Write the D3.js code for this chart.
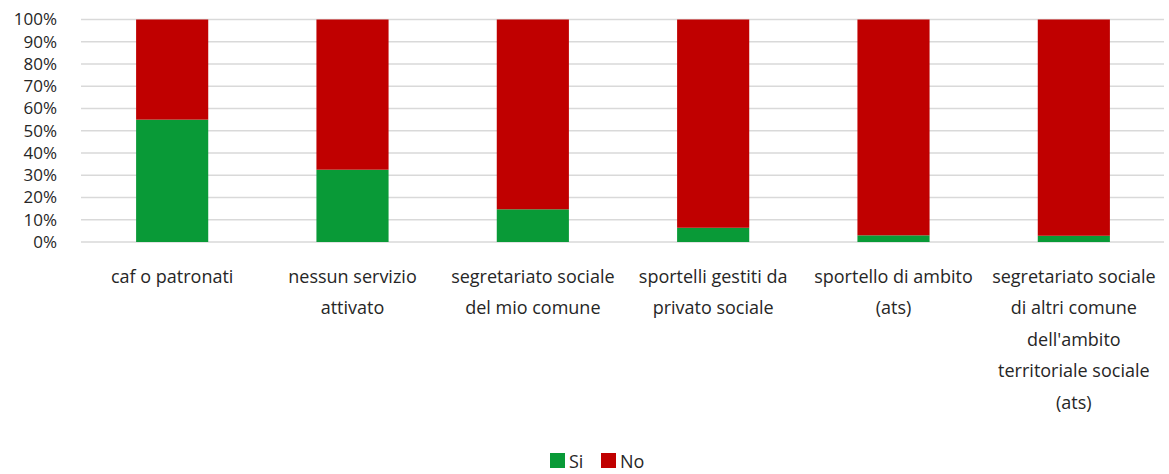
<!DOCTYPE html>
<html>
<head>
<meta charset="utf-8">
<script src="https://cdn.jsdelivr.net/npm/d3@7"></script>
<style>
    body { margin: 0; background: #fff; }
    text { font-family: 'Open Sans', sans-serif; fill: #262626; }
</style>
</head>
<body>
<div id="chart"></div>
<script>
var categories = [
    'caf o patronati',
    'nessun servizio\nattivato',
    'segretariato sociale\ndel mio comune',
    'sportelli gestiti da\nprivato sociale',
    'sportello di ambito\n(ats)',
    "segretariato sociale\ndi altri comune\ndell'ambito\nterritoriale sociale\n(ats)"
]
var seriesNames = ['Si', 'No']
var siValues = [55, 32.5, 14.7, 6.4, 3, 2.8]
var noValues = [45, 67.5, 85.3, 93.6, 97, 97.2]
var yTicks = [0, 10, 20, 30, 40, 50, 60, 70, 80, 90, 100]
var colors = ['#099A37', '#C00000']

var W = 1169
var H = 474
var margin = { top: 19.5, right: 5, bottom: 232, left: 82 }
var width = W - margin.left - margin.right
var height = H - margin.top - margin.bottom

var svg = d3.select('#chart').append('svg')
    .attr('width', W)
    .attr('height', H)

var g = svg.append('g')
    .attr('transform', 'translate(' + margin.left + ',' + margin.top + ')')

var x = d3.scaleBand()
    .domain(categories)
    .range([0, width])
    .paddingInner(0.6)
    .paddingOuter(0.3)

var y = d3.scaleLinear()
    .domain([0, 100])
    .range([height, 0])

// grid
g.selectAll('.grid')
    .data(yTicks)
    .enter().append('line')
    .attr('x1', -1)
    .attr('x2', width)
    .attr('y1', function (d) { return y(d) })
    .attr('y2', function (d) { return y(d) })
    .attr('stroke', '#d9d9d9')
    .attr('stroke-width', 1.3)

var yAxis = d3.axisLeft(y).tickValues(yTicks)
    .tickFormat(function (d) { return d + '%' })
    .tickSize(0).tickPadding(25)

g.append('g').call(yAxis)
    .call(function (a) { a.select('.domain').remove() })
    .selectAll('text')
    .style('font-size', '17px')
    .attr('fill', '#262626')

var rows = categories.map(function (c, i) {
    return { cat: c, Si: siValues[i], No: noValues[i] }
})
var stack = d3.stack().keys(seriesNames)(rows)

g.selectAll('.series')
    .data(stack)
    .enter().append('g')
    .attr('fill', function (d, i) { return colors[i] })
    .selectAll('rect')
    .data(function (d) { return d })
    .enter().append('rect')
    .attr('x', function (d) { return x(d.data.cat) })
    .attr('width', x.bandwidth())
    .attr('y', function (d) { return y(d[1]) })
    .attr('height', function (d) { return y(d[0]) - y(d[1]) })

// category labels
var labels = g.selectAll('.cat')
    .data(categories)
    .enter().append('text')
    .attr('text-anchor', 'middle')
    .attr('transform', function (d) {
        return 'translate(' + (x(d) + x.bandwidth() / 2) + ',' + (height + 40.5) + ')'
    })
    .style('font-size', '18px')

labels.selectAll('tspan')
    .data(function (d) { return d.split('\n') })
    .enter().append('tspan')
    .attr('x', 0)
    .attr('y', function (d, i) { return i * 31.5 })
    .text(function (d) { return d })

// legend
var legend = svg.append('g')
    .attr('transform', 'translate(550,453)')

var items = legend.selectAll('g')
    .data(seriesNames)
    .enter().append('g')
    .attr('transform', function (d, i) { return 'translate(' + (i * 51) + ',0)' })

items.append('rect')
    .attr('width', 15)
    .attr('height', 15)
    .attr('fill', function (d, i) { return colors[i] })

items.append('text')
    .attr('x', 19)
    .attr('y', 14.5)
    .style('font-size', '18px')
    .text(function (d) { return d })
</script>
</body>
</html>
